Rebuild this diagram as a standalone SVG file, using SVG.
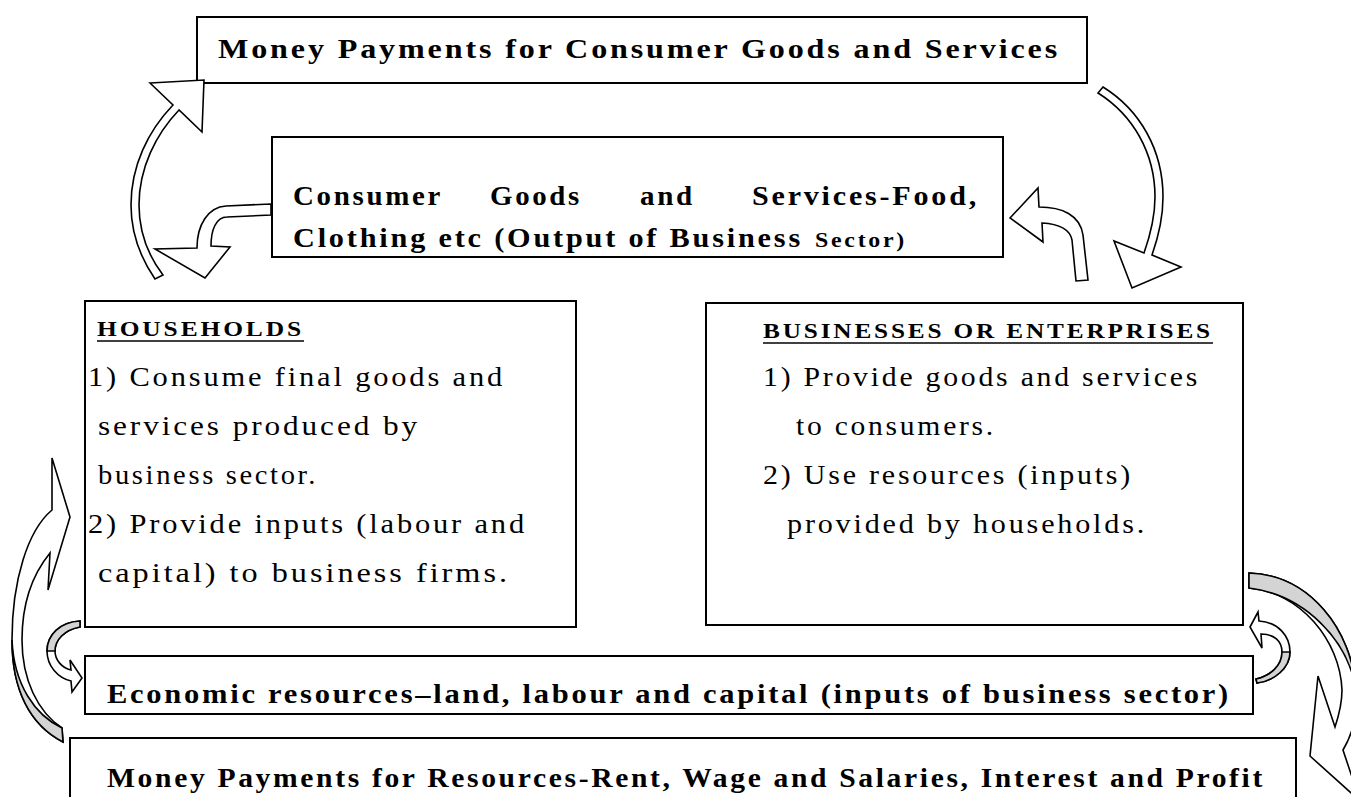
<svg xmlns="http://www.w3.org/2000/svg" width="1351" height="797" viewBox="0 0 1351 797">
<style>
.box{fill:#fff;stroke:#000;stroke-width:2}
.b{font-family:"Liberation Serif","Times New Roman",serif;font-weight:bold;font-size:28px;letter-spacing:2.5px;fill:#000}
.c{font-family:"Liberation Serif","Times New Roman",serif;font-weight:bold;font-size:27px;letter-spacing:2.5px;fill:#000}
.r{font-family:"Liberation Serif","Times New Roman",serif;font-size:27px;letter-spacing:2.5px;fill:#000}
.t{font-family:"Liberation Serif","Times New Roman",serif;font-weight:bold;font-size:22px;letter-spacing:2.5px;fill:#000}
.ul{stroke:#000;stroke-width:1.6}
.arr{fill:#fff;stroke:#000;stroke-width:1.6;stroke-linejoin:miter}
.gray{fill:#d4d4d4;stroke:#000;stroke-width:1.6}
</style>
<rect width="1351" height="797" fill="#fff"/>
<g id="top-box">
<rect class="box" x="197" y="17" width="890" height="66"/>
<text class="b" x="218" y="58" textLength="842" lengthAdjust="spacingAndGlyphs">Money Payments for Consumer Goods and Services</text>
</g>
<g id="consumer-goods">
<rect class="box" x="272" y="137" width="731" height="120"/>
<text class="c" x="293" y="205" textLength="150" lengthAdjust="spacingAndGlyphs">Consumer</text>
<text class="c" x="490" y="205" textLength="92" lengthAdjust="spacingAndGlyphs">Goods</text>
<text class="c" x="640" y="205" textLength="55" lengthAdjust="spacingAndGlyphs">and</text>
<text class="c" x="752" y="205" textLength="227" lengthAdjust="spacingAndGlyphs">Services-Food,</text>
<text class="c" x="293" y="247" textLength="510" lengthAdjust="spacingAndGlyphs">Clothing etc (Output of Business</text>
<text class="c" x="815" y="247" style="font-size:22px" textLength="92" lengthAdjust="spacingAndGlyphs">Sector)</text>
</g>
<g id="households">
<rect class="box" x="85" y="301" width="491" height="326"/>
<text class="t" x="97" y="336" textLength="207" lengthAdjust="spacingAndGlyphs">HOUSEHOLDS</text>
<line class="ul" x1="97" y1="341" x2="304" y2="341"/>
<text class="r" x="88" y="386" textLength="417" lengthAdjust="spacingAndGlyphs">1) Consume final goods and</text>
<text class="r" x="98" y="435" textLength="322" lengthAdjust="spacingAndGlyphs">services produced by</text>
<text class="r" x="98" y="484" textLength="220" lengthAdjust="spacingAndGlyphs">business sector.</text>
<text class="r" x="88" y="533" textLength="439" lengthAdjust="spacingAndGlyphs">2) Provide inputs (labour and</text>
<text class="r" x="98" y="582" textLength="412" lengthAdjust="spacingAndGlyphs">capital) to business firms.</text>
</g>
<g id="businesses">
<rect class="box" x="706" y="303" width="537" height="322"/>
<text class="t" x="763" y="338" textLength="450" lengthAdjust="spacingAndGlyphs">BUSINESSES OR ENTERPRISES</text>
<line class="ul" x1="763" y1="343" x2="1213" y2="343"/>
<text class="r" x="763" y="386" textLength="437" lengthAdjust="spacingAndGlyphs">1) Provide goods and services</text>
<text class="r" x="796" y="435" textLength="200" lengthAdjust="spacingAndGlyphs">to consumers.</text>
<text class="r" x="763" y="484" textLength="370" lengthAdjust="spacingAndGlyphs">2) Use resources (inputs)</text>
<text class="r" x="787" y="533" textLength="360" lengthAdjust="spacingAndGlyphs">provided by households.</text>
</g>
<g id="economic-resources">
<rect class="box" x="85" y="656" width="1168" height="58"/>
<text class="b" x="107" y="703" textLength="1124" lengthAdjust="spacingAndGlyphs">Economic resources–land, labour and capital (inputs of business sector)</text>
</g>
<g id="money-resources">
<rect class="box" x="70" y="738" width="1226" height="80"/>
<text class="b" x="107" y="787" textLength="1158" lengthAdjust="spacingAndGlyphs">Money Payments for Resources-Rent, Wage and Salaries, Interest and Profit</text>
</g>
<g id="connectors">
<path class="arr" d="M150,83 L204,80 L202,132 L179,110 C156,134 139,168 139,205 C139,236 150,258 163,275 L155,279 C142,260 131,236 131,205 C131,166 148,131 173,105 Z"/>
<path class="arr" d="M271,204 L226,206 C208,207 197,225 197,248 L155,249 L205,278 L230,247 L211,246 C211,230 216,217 227,217 L271,215 Z"/>
<path class="arr" d="M1103,87 C1140,110 1163,150 1163,197 C1163,220 1158,238 1152,255 L1181,267 L1132,288 L1114,241 L1144,253 C1150,236 1155,218 1155,197 C1155,153 1133,115 1098,93 Z"/>
<path class="arr" d="M1010,218 L1038,188 L1039,207 C1062,207 1080,215 1083,235 L1088,280 L1076,281 L1072,240 C1070,230 1060,224 1042,223 L1043,242 Z"/>
<path class="arr" d="M52,458 L70,517 L48,590 L50,553 C32,575 22,605 22,640 C22,680 38,712 62,728 L63,742 C30,725 12,690 12,640 C12,580 28,530 52,510 Z"/>
<path class="gray" d="M63,742 C30,725 12,690 12,640 C14,685 35,715 62,728 Z"/>
<path class="arr" d="M80,621 C60,622 47,635 47,651 C47,666 58,678 71,681 L72,692 L82,678 L70,660 L71,670 C62,668 55,660 55,651 C55,640 64,630 80,627 Z"/>
<path class="gray" d="M80,621 C60,622 47,635 47,651 L55,651 C55,640 64,630 80,627 Z"/>
<path class="arr" d="M1250,627 L1258,612 L1259,621 C1278,622 1290,636 1290,652 C1290,668 1274,681 1257,683 L1256,679 C1270,676 1282,666 1282,652 C1282,641 1274,634 1261,634 L1262,648 Z"/>
<path class="gray" d="M1290,652 C1290,668 1274,681 1257,683 L1256,679 C1270,676 1282,666 1282,652 Z"/>
<path class="arr" d="M1249,573 C1310,575 1352,630 1356,690 C1358,715 1352,735 1343,750 L1360,801 L1310,756 L1318,676 L1335,727 C1339,715 1342,700 1342,690 C1340,640 1300,592 1249,588 Z"/>
<path class="gray" d="M1249,573 C1310,575 1352,630 1356,690 C1348,640 1305,595 1249,588 Z"/>
</g>
</svg>
